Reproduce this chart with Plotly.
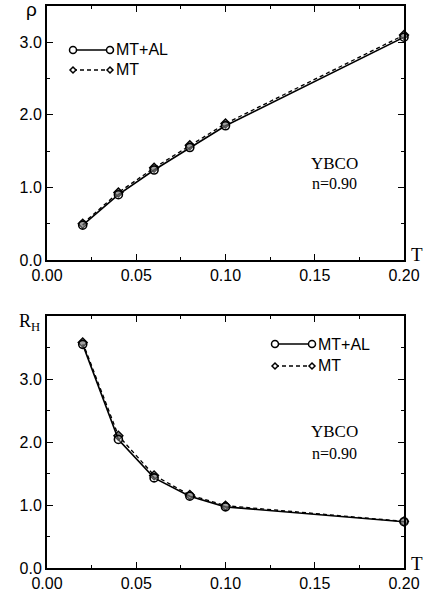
import plotly.graph_objects as go
from plotly.subplots import make_subplots

T = [0.02, 0.04, 0.06, 0.08, 0.10, 0.20]
rho_mtal = [0.48, 0.90, 1.24, 1.55, 1.85, 3.07]
rho_mt = [0.50, 0.93, 1.27, 1.58, 1.88, 3.10]
rh_mtal = [3.55, 2.04, 1.43, 1.14, 0.97, 0.735]
rh_mt = [3.58, 2.10, 1.47, 1.16, 0.99, 0.74]
x_ticks = [0.0, 0.05, 0.10, 0.15, 0.20]
x_ticktext = ["0.00", "0.05", "0.10", "0.15", "0.20"]
y_ticks = [0.0, 1.0, 2.0, 3.0]
y_ticktext = ["0.0", "1.0", "2.0", "3.0"]

fig = make_subplots(rows=2, cols=1, vertical_spacing=0.1)

def add_pair(row, y1, y2):
    fig.add_trace(go.Scatter(x=T, y=y2, mode="lines+markers", name="MT",
                             line=dict(color="black", width=1.3, dash="4px,3px"),
                             marker=dict(symbol="diamond", size=7, color="#777",
                                         line=dict(color="black", width=1.3)),
                             cliponaxis=False, showlegend=False), row=row, col=1)
    fig.add_trace(go.Scatter(x=T, y=y1, mode="lines+markers", name="MT+AL",
                             line=dict(color="black", width=1.6),
                             marker=dict(symbol="circle", size=8, color="rgba(255,255,255,0.3)",
                                         line=dict(color="black", width=1.6)),
                             cliponaxis=False, showlegend=False), row=row, col=1)

add_pair(1, rho_mtal, rho_mt)
add_pair(2, rh_mtal, rh_mt)

tickfont = dict(family="Liberation Sans, Arial", size=16, color="black")
ax_common = dict(showline=True, linecolor="black", linewidth=2, mirror="ticks",
                 ticks="inside", ticklen=6, tickwidth=1, tickcolor="black",
                 showgrid=False, zeroline=False, tickfont=tickfont, automargin=False,
                 ticklabeloverflow="allow")
for r in (1, 2):
    fig.update_xaxes(range=[0, 0.2], tickvals=x_ticks, ticktext=x_ticktext,
                     minor=dict(ticks="inside", dtick=0.025, tick0=0, ticklen=3, tickcolor="black"),
                     row=r, col=1, **ax_common)
fig.update_yaxes(range=[0, 3.5], tickvals=y_ticks, ticktext=y_ticktext,
                 minor=dict(ticks="inside", dtick=0.5, tick0=0, ticklen=3, tickcolor="black"),
                 row=1, col=1, **ax_common)
fig.update_yaxes(range=[0, 4.0], tickvals=y_ticks, ticktext=y_ticktext,
                 minor=dict(ticks="inside", dtick=0.5, tick0=0, ticklen=3, tickcolor="black"),
                 row=2, col=1, **ax_common)

H = 562.0
fig.update_layout(
    template="none",
    width=424, height=597,
    margin=dict(l=47, r=20, t=6, b=29, autoexpand=False),
    paper_bgcolor="white", plot_bgcolor="white",
    showlegend=False,
    xaxis=dict(domain=[0, 1]), xaxis2=dict(domain=[0, 1]),
    yaxis=dict(domain=[(568 - 260) / H, 1.0]),
    yaxis2=dict(domain=[0, (568 - 316) / H]),
)

W = 424 - 47 - 20
def px(x):  # pixel to paper x
    return (x - 47) / W
def py(y):  # pixel to paper y
    return (568 - y) / H

serif = "Liberation Serif, Times New Roman, serif"
sans = "Liberation Sans, Arial"
ann = []
def text(x, y, s, font, size, xanchor="center"):
    ann.append(dict(x=px(x), y=py(y), xref="paper", yref="paper", text=s, showarrow=False,
                    font=dict(family=font, size=size, color="black"), xanchor=xanchor,
                    yanchor="middle"))

text(31, 9, "ρ", sans, 19)
text(417, 255, "T", serif, 19)
text(29, 322, "R<sub>H</sub>", serif, 18)
text(417, 563, "T", serif, 19)
text(334, 163, "YBCO", serif, 17)
text(334, 183, "n=0.90", serif, 16)
text(334, 431, "YBCO", serif, 17)
text(334, 453, "n=0.90", serif, 16)

shapes = []
def legend(x0, x1, y1, y2):
    shapes.append(dict(type="line", xref="paper", yref="paper", x0=px(x0), x1=px(x1),
                       y0=py(y1), y1=py(y1), line=dict(color="black", width=1.6)))
    shapes.append(dict(type="line", xref="paper", yref="paper", x0=px(x0), x1=px(x1),
                       y0=py(y2), y1=py(y2), line=dict(color="black", width=1.3, dash="4px,3px")))
    for xc in (x0, x1):
        shapes.append(dict(type="circle", xref="paper", yref="paper", xsizemode="pixel",
                           ysizemode="pixel", xanchor=px(xc), yanchor=py(y1),
                           x0=-3.5, x1=3.5, y0=-3.5, y1=3.5,
                           fillcolor="white", line=dict(color="black", width=1.5)))
        shapes.append(dict(type="path", xref="paper", yref="paper", xsizemode="pixel",
                           ysizemode="pixel", xanchor=px(xc), yanchor=py(y2),
                           path="M -3 0 L 0 3 L 3 0 L 0 -3 Z",
                           fillcolor="white", line=dict(color="black", width=1.5)))
    text(x1 + 4, y1, "MT+AL", sans, 16, "left")
    text(x1 + 4, y2, "MT", sans, 16, "left")

legend(73, 110, 50, 70)
legend(275, 312, 344, 366)

fig.update_layout(annotations=ann, shapes=shapes)
fig.write_html("out.html", config={"displayModeBar": False},
               post_script="document.body.style.margin='0px';document.body.style.overflow='hidden';")
